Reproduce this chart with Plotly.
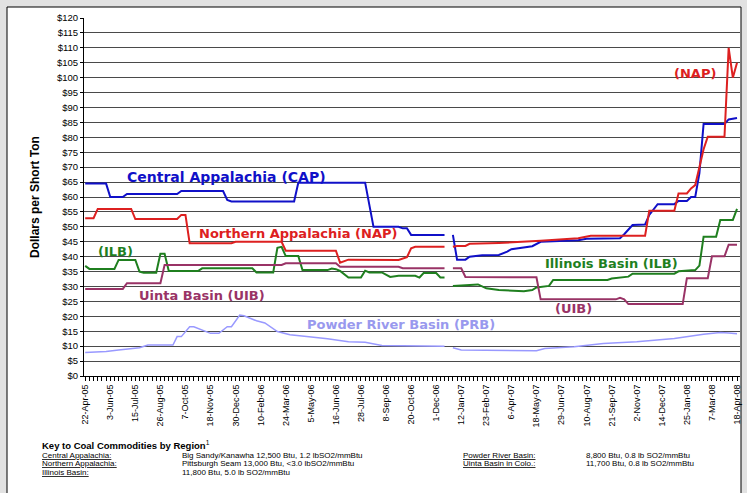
import pandas as pd
import plotly.graph_objects as go

# weekly coal spot prices, week 0 = 22-Apr-05 (None = missing week)
start = pd.Timestamp('2005-04-22')
n_weeks = 156

cap_weeks = [0, 5, 6, 9, 10, 22, 23, 33, 34, 35, 50, 51, 67, 69, 75, 76, 77, 78, 86, 87, 88, 89, 91, 92, 95,
             99, 101, 102, 107, 109, 118, 120, 128, 129, 131, 134, 135, 137, 141, 142, 144, 145, 146, 147, 148,
             153, 154, 156]
cap_vals = [64.5, 64.5, 60, 60, 61, 61, 62, 62, 59, 58.5, 58.5, 64.8, 64.8, 50, 50, 49.5, 49.5, 47.3, 47.3, None,
            47.3, 39, 39, 40, 40.5, 40.6, 41.7, 42.5, 43.5, 45, 45.5, 46, 46.2, 47.5, 50.6, 50.8, 54, 57.6, 57.6,
            58.7, 58.7, 60, 60, 68, 84.5, 84.5, 86, 86.5]

nap_weeks = [0, 2, 3, 11, 12, 22, 23, 24, 25, 35, 36, 47, 48, 60, 61, 63, 75, 77, 78, 79, 86, 87, 88, 89, 91,
             92, 99, 109, 118, 121, 134, 135, 141, 142, 144, 145, 146, 147, 148, 149, 153, 154, 155, 156]
nap_vals = [52.9, 52.9, 56, 56, 52.6, 52.6, 54, 54, 44.5, 44.5, 45, 45, 42, 42, 38, 39, 38.9, 39.8, 42.8, 43.3,
            43.3, None, 43.3, 43.6, 43.6, 44.3, 44.6, 45.3, 46.2, 47, 47, 55.4, 55.4, 61.2, 61.2, 62.9, 64, 70,
            76, 80.2, 80.2, 110, 100, 105]

ilb_weeks = [0, 1, 7, 8, 12, 13, 14, 17, 18, 19, 20, 27, 28, 40, 41, 45, 46, 47, 48, 51, 52, 58, 59, 60, 61,
             62, 63, 66, 67, 68, 71, 73, 75, 79, 80, 81, 84, 85, 86, 87, 88, 92, 94, 96, 99, 105, 107, 108, 110,
             111, 112, 125, 126, 130, 131, 141, 142, 146, 147, 148, 151, 152, 155, 156]
ilb_vals = [36.9, 35.9, 35.9, 38.9, 38.9, 35, 34.6, 34.6, 41, 41, 35.2, 35.2, 36.1, 36.1, 34.7, 34.7, 43, 43.3,
            40.2, 40.2, 35.5, 35.5, 36, 35.8, 35.2, 34.2, 33, 33, 35.3, 34.7, 34.7, 33.2, 33.6, 33.6, 33, 34.5,
            34.5, 33, 33, None, 30.2, 30.5, 30.7, 29.4, 28.8, 28.4, 28.8, 29.7, 30, 30.2, 32.2, 32.2, 32.7, 33.3,
            34.3, 34.3, 35.1, 35.5, 37, 46.7, 46.7, 52.3, 52.3, 56]

uib_weeks = [0, 9, 10, 18, 19, 47, 48, 60, 61, 75, 76, 86, 87, 88, 90, 91, 108, 109, 127, 128, 129, 130, 143,
             144, 149, 150, 153, 154, 156]
uib_vals = [29.2, 29.2, 31.1, 31.1, 37.2, 37.2, 37.8, 37.8, 36.6, 36.6, 36.1, 36.1, None, 36.1, 36.1, 33.2,
            33.1, 25.7, 25.7, 26.2, 25.7, 24.1, 24.1, 32.8, 32.8, 40.1, 40.1, 44, 44]

prb_weeks = [0, 5, 8, 13, 15, 21, 22, 23, 25, 26, 30, 32, 34, 35, 37, 38, 41, 43, 46, 49, 53, 58, 63, 67, 71,
             83, 86, 87, 88, 90, 108, 110, 117, 124, 132, 141, 148, 152, 154, 156]
prb_vals = [7.9, 8.2, 8.7, 9.5, 10.4, 10.4, 13.2, 13.2, 16.5, 16.5, 14.3, 14.3, 16.5, 16.5, 20.4, 20.2, 18.5,
            17.8, 14.9, 13.8, 13.2, 12.5, 11.5, 11.3, 10.2, 10.2, 10, None, 9.5, 8.7, 8.5, 9.2, 9.8, 10.9, 11.5,
            12.6, 14, 14.6, 14.4, 14.2]

key_regions = ['Central Appalachia:', 'Northern Appalachia:', 'Illinois Basin:']
key_specs = ['Big Sandy/Kanawha 12,500 Btu, 1.2 lbSO2/mmBtu',
             'Pittsburgh Seam 13,000 Btu, <3.0 lbSO2/mmBtu',
             '11,800 Btu, 5.0 lb SO2/mmBtu']
key_regions2 = ['Powder River Basin:', 'Uinta Basin in Colo.:']
key_specs2 = ['8,800 Btu, 0.8 lb SO2/mmBtu', '11,700 Btu, 0.8 lb SO2/mmBtu']


def to_dates(weeks):
    return [start + pd.Timedelta(weeks=w) for w in weeks]


series = [
    (cap_weeks, cap_vals, '#1010c8', 2),
    (nap_weeks, nap_vals, '#dd2020', 2),
    (ilb_weeks, ilb_vals, '#1f7f1f', 2),
    (uib_weeks, uib_vals, '#993366', 2),
    (prb_weeks, prb_vals, '#9999ff', 1.5),
]

fig = go.Figure()
for weeks, vals, color, width in series:
    fig.add_trace(go.Scatter(x=to_dates(weeks), y=vals, mode='lines',
                             line=dict(color=color, width=width), connectgaps=False))

tick_dates = [start + pd.Timedelta(weeks=w) for w in range(0, n_weeks + 1, 6)]
tick_text = [f"{d.day}-{d.strftime('%b-%y')}" for d in tick_dates]

# plot area in pixels: x 84..740, y 18..376
L, R, T, B = 84, 740, 18, 376
W, H = 747, 493


def px(x):
    return (x - L) / (R - L)


def py(y):
    return (B - y) / (B - T)


fig.add_shape(type='rect', xref='paper', yref='paper', x0=px(7), x1=px(741), y0=py(497), y1=py(7),
              fillcolor='white', line=dict(color='black', width=1), layer='below')

lab_font = 'DejaVu Sans'
labels = [
    ('Central Appalachia (CAP)', 125, 177, '#1010c8', 14),
    ('Northern Appalachia (NAP)', 197, 233, '#dd2020', 13),
    ('(ILB)', 96, 251, '#1f7f1f', 13),
    ('Illinois Basin (ILB)', 543, 263, '#1f7f1f', 13),
    ('Uinta Basin (UIB)', 137, 295, '#993366', 13),
    ('(UIB)', 553, 308, '#993366', 13),
    ('(NAP)', 672, 73, '#dd2020', 13),
    ('Powder River Basin (PRB)', 305, 324, '#9999ee', 13),
]
for text, x, y, color, size in labels:
    fig.add_annotation(text=f'<b>{text}</b>', xref='paper', yref='paper', x=px(x), y=py(y),
                       xanchor='left', yanchor='middle', showarrow=False,
                       font=dict(family=lab_font, size=size, color=color))

fig.add_annotation(text='<b>Dollars per Short Ton</b>', xref='paper', yref='paper', x=px(35), y=py(197),
                   textangle=-90, showarrow=False, xanchor='center', yanchor='middle',
                   font=dict(family='Liberation Sans, Arial', size=12, color='black'))

key_font = dict(family='Liberation Sans, Arial', size=8, color='black')
fig.add_annotation(text='<b>Key to Coal Commodities by Region</b><sup>1</sup>', xref='paper', yref='paper',
                   x=px(40), y=py(445), xanchor='left', yanchor='middle', showarrow=False,
                   font=dict(family='Liberation Sans, Arial', size=9.5, color='black'))
row_y = [455, 463.5, 472]
for i, (reg, spec) in enumerate(zip(key_regions, key_specs)):
    fig.add_annotation(text=f'<u>{reg}</u>', xref='paper', yref='paper', x=px(40), y=py(row_y[i]),
                       xanchor='left', yanchor='middle', showarrow=False, font=key_font)
    fig.add_annotation(text=spec, xref='paper', yref='paper', x=px(180), y=py(row_y[i]),
                       xanchor='left', yanchor='middle', showarrow=False, font=key_font)
for i, (reg, spec) in enumerate(zip(key_regions2, key_specs2)):
    fig.add_annotation(text=f'<u>{reg}</u>', xref='paper', yref='paper', x=px(461), y=py(row_y[i]),
                       xanchor='left', yanchor='middle', showarrow=False, font=key_font)
    fig.add_annotation(text=spec, xref='paper', yref='paper', x=px(584), y=py(row_y[i]),
                       xanchor='left', yanchor='middle', showarrow=False, font=key_font)

fig.update_layout(
    width=W, height=H,
    margin=dict(l=L, r=W - R, t=T, b=H - B),
    paper_bgcolor='#e2e2e2',
    plot_bgcolor='white',
    showlegend=False,
    xaxis=dict(
        type='date', automargin=False,
        range=[start - pd.Timedelta(days=2), start + pd.Timedelta(weeks=n_weeks) + pd.Timedelta(days=5)],
        tickvals=tick_dates, ticktext=tick_text, tickangle=-90, ticklabeloverflow='allow',
        tickfont=dict(family='Liberation Sans, Arial', size=9, color='black'),
        ticks='outside', ticklen=4, tickcolor='black',
        minor=dict(dtick=7 * 86400000, tick0=start, ticks='outside', ticklen=4, tickcolor='black',
                   showgrid=False),
        showline=True, linecolor='black', linewidth=1, showgrid=False, zeroline=False,
    ),
    yaxis=dict(
        range=[0, 120], dtick=5, tickprefix='$', automargin=False,
        tickfont=dict(family='Liberation Sans, Arial', size=9.5, color='black'),
        ticks='outside', ticklen=3, tickcolor='black',
        showline=True, linecolor='black', linewidth=1,
        showgrid=True, gridcolor='#4a4a4a', gridwidth=1, zeroline=False,
    ),
)

# drop the default page margin so the figure sits at the top-left corner
fig.write_html('out.html', config={'displayModeBar': False},
               post_script="document.body.style.margin='0px';")
